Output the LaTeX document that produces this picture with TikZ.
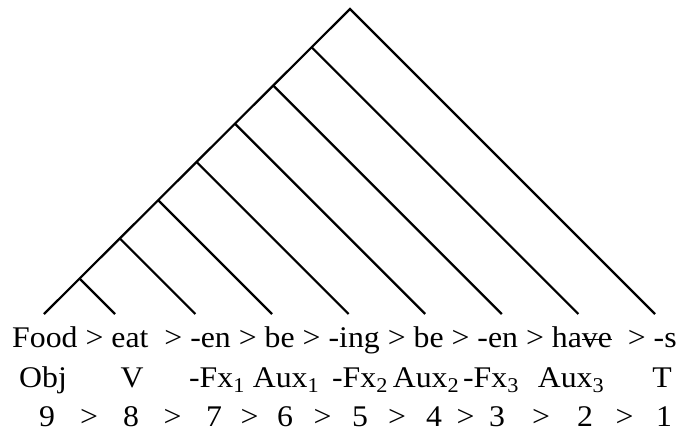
\documentclass[tikz,border=0pt]{standalone}
\usepackage{fontspec}
\setmainfont{Liberation Serif}[FakeStretch=1.06]
\usetikzlibrary{calc}

% struck-out letters
\newcommand{\struck}[1]{\setbox0\hbox{#1}\rlap{\rule[0.23em]{\wd0}{1.6pt}}#1}

\begin{document}
\begin{tikzpicture}[x=1pt, y=-1pt,
    branch/.style={line width=2.2pt},
    word/.style={font=\fontsize{30}{36}\selectfont, inner sep=0pt, anchor=base}]
    \useasboundingbox (0,0) rectangle (682,432);

    % Apex, spine and last branch
    \coordinate (top) at (350,9);
    \coordinate (spineEnd) at (44,314);
    \coordinate (lastEnd) at (655,314);
    \draw[branch] (spineEnd) -- (top) -- (lastEnd);

    % Branches hanging off the spine
    \foreach \k/\t in {1/38.3, 2/76.6, 3/114.9, 4/153.2, 5/191.5, 6/229.8, 7/270} {
        \coordinate (b\k) at (350-\t, 9+\t);
        \coordinate (e\k) at (655-2*\t, 314);
        \draw[branch] (b\k) -- (e\k);
    }

    % Row 1: morphemes
    \node[word, anchor=base west] (morphemes) at (12,347)
        {Food > eat\ \ > -en > be > -ing > be > -en > ha\struck{ve}\ \ > -s};

    % Row 2: categories
    \foreach \i/\x/\w in {1/43/Obj, 2/132/V, 3/217/-Fx\textsubscript{1},
                          4/286/Aux\textsubscript{1}, 5/360/-Fx\textsubscript{2},
                          6/426/Aux\textsubscript{2}, 7/491/-Fx\textsubscript{3},
                          8/571/Aux\textsubscript{3}, 9/662/T}
        \node[word] (c\i) at (\x,387) {\w};

    % Row 3: order
    \foreach \i/\x/\n in {1/47/9, 2/131/8, 3/214/7, 4/285/6, 5/360/5,
                          6/434/4, 7/497/3, 8/585/2, 9/664/1}
        \node[word] (n\i) at (\x,426) {\n};
    \foreach \i/\j in {1/2, 2/3, 3/4, 4/5, 5/6, 6/7, 7/8, 8/9}
        \node[word] (o\i) at ($(n\i.base)!0.5!(n\j.base)$) {>};

\end{tikzpicture}
\end{document}
